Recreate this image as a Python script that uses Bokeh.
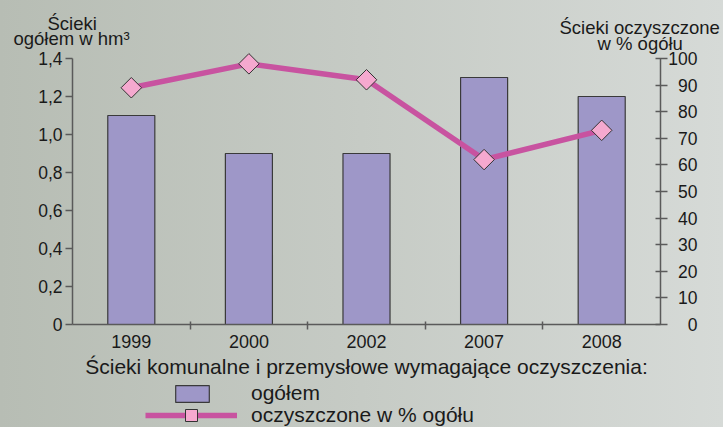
import numpy as np
from bokeh.plotting import figure
from bokeh.core.properties import value
from bokeh.models import (Range1d, FactorRange, LinearAxis, FixedTicker, CustomJSTickFormatter,
                          Label, Legend, LegendItem, ColumnDataSource)
from bokeh.embed import file_html
from bokeh.resources import INLINE

# ---- data ----
years = ["1999", "2000", "2002", "2007", "2008"]
total_hm3 = [1.1, 0.9, 0.9, 1.3, 1.2]
treated_pct = [89, 98, 92, 62, 73]
left_ticks = [0, 0.2, 0.4, 0.6, 0.8, 1.0, 1.2, 1.4]
right_ticks = [0, 10, 20, 30, 40, 50, 60, 70, 80, 90, 100]

title_left = ["Ścieki", "ogółem w hm³"]
title_right = ["Ścieki oczyszczone", "w % ogółu"]
legend_title = "Ścieki komunalne i przemysłowe wymagające oczyszczenia:"
legend_labels = ["ogółem", "oczyszczone w % ogółu"]

# ---- layout (pixels) ----
W, H = 723, 427
FRAME_L = 9                 # frame spans the canvas so outer texts are not clipped
X0, X1 = 72, 660            # plot area left / right
Y0, Y1 = 324, 58            # pixel rows of value 0 and of the top tick
FONT = "Liberation Sans"
AX = "#5a5a5a"
TXT = "#1a1a1a"

n = len(years)
cat_px = (X1 - X0) / n
pad = (X0 - FRAME_L) / cat_px
ymax = left_ticks[-1]
ppu = (Y0 - Y1) / ymax
pmax = right_ticks[-1]
ppp = (Y0 - Y1) / pmax

def xs(px):  # pixel column -> synthetic categorical coordinate
    return (px - X0) / cat_px

def ys(py):  # pixel row -> left-axis units
    return (Y0 - py) / ppu

src = ColumnDataSource(dict(year=years, total=total_hm3, pct=treated_pct))

p = figure(width=W, height=H,
           x_range=FactorRange(*years, range_padding=pad, range_padding_units="absolute"),
           y_range=Range1d(-(H - Y0) / ppu, ymax + Y1 / ppu),
           output_backend="svg", toolbar_location=None,
           x_axis_location=None, y_axis_location=None,
           min_border=0, min_border_left=FRAME_L, min_border_right=0,
           background_fill_alpha=0, border_fill_alpha=0, outline_line_color=None,
           styles={"background": "linear-gradient(90deg, #b7bdb4 0%, #c6cbc5 50%, #d6dad7 100%)"})
p.extra_y_ranges = {"pct": Range1d(-(H - Y0) / ppp, pmax + Y1 / ppp)}
for g in p.grid:
    g.visible = False

bars = p.vbar(x="year", top="total", width=0.4, source=src,
              fill_color="#9e97c8", line_color="#3a3a3a", line_width=1.2)
line_r = p.line(x="year", y="pct", source=src, y_range_name="pct",
                line_color="#c853a0", line_width=5.5)
pts = p.scatter(x="year", y="pct", source=src, y_range_name="pct", marker="square",
                angle=np.pi / 4, size=14.5, fill_color="#f5a9cf", line_color="#333333", line_width=1)

TICK_FS = "17.5px"
left = LinearAxis(ticker=FixedTicker(ticks=left_ticks), fixed_location=0, bounds=(0, ymax),
                  formatter=CustomJSTickFormatter(code="return tick == 0 ? '0' : tick.toFixed(1).replace('.', ',');"),
                  major_tick_in=0, major_tick_out=7, minor_tick_line_color=None,
                  axis_line_color=AX, axis_line_width=1.5, major_tick_line_color=AX, major_tick_line_width=1.5,
                  major_label_standoff=3, major_label_text_font=FONT, major_label_text_font_size=TICK_FS,
                  major_label_text_color=TXT)
p.add_layout(left, "left")

# right axis: rule and ticks; its labels are right-aligned like the original
right = LinearAxis(y_range_name="pct", ticker=FixedTicker(ticks=right_ticks), fixed_location=n,
                   bounds=(0, pmax), formatter=CustomJSTickFormatter(code="return '';"),
                   major_tick_in=5, major_tick_out=7, minor_tick_line_color=None,
                   axis_line_color=AX, axis_line_width=1.5, major_tick_line_color=AX, major_tick_line_width=1.5)
p.add_layout(right, "right")
rsrc = ColumnDataSource(dict(x=[xs(697)] * len(right_ticks), y=right_ticks,
                             t=[str(v) for v in right_ticks]))
p.text(x="x", y="y", text="t", source=rsrc, y_range_name="pct", text_align="right",
       text_baseline="middle", text_font=value(FONT), text_font_size=value(TICK_FS), text_color=TXT)

centers = [i + 0.5 for i in range(n)]
bounds = [i + 1.0 for i in range(n - 1)]
bottom = LinearAxis(ticker=FixedTicker(ticks=centers, minor_ticks=bounds), fixed_location=0,
                    bounds=(0, n),
                    formatter=CustomJSTickFormatter(args=dict(labels=years),
                                                    code="return labels[Math.round(tick - 0.5)];"),
                    major_tick_line_color=None, major_tick_in=0, major_tick_out=0,
                    minor_tick_in=3, minor_tick_out=5, minor_tick_line_color=AX, minor_tick_line_width=1.5,
                    axis_line_color=AX, axis_line_width=1.5,
                    major_label_standoff=5, major_label_text_font=FONT, major_label_text_font_size="18px",
                    major_label_text_color=TXT,
                    axis_label=legend_title, axis_label_text_font=FONT, axis_label_text_font_size="21px",
                    axis_label_text_font_style="normal", axis_label_text_color=TXT, axis_label_standoff=4)
p.add_layout(bottom, "below")

# titles above the two value axes (left edge, baseline)
TITLE_FS = "18.5px"
for txt, lx, base in [(title_left[0], 47, 23), (title_left[1], 13, 38),
                      (title_right[0], 559, 27), (title_right[1], 597, 43)]:
    p.add_layout(Label(x=xs(lx), y=ys(base), text=txt, text_align="left",
                       text_baseline="alphabetic", text_font=FONT, text_font_size=TITLE_FS,
                       text_color=TXT))

# legend entries below the legend title
leg_common = dict(padding=0, margin=0, spacing=0, border_line_color=None, background_fill_alpha=0,
                  label_text_font=FONT, label_text_font_size="21px", label_text_color=TXT)
leg1 = Legend(items=[LegendItem(label=legend_labels[0], renderers=[bars])],
              location=(171 - FRAME_L, H - 405), glyph_width=42, glyph_height=21, label_height=21,
              label_standoff=38, **leg_common)
leg2 = Legend(items=[LegendItem(label=legend_labels[1], renderers=[line_r, pts])],
              location=(145 - FRAME_L, H - 430), glyph_width=92, glyph_height=30, label_height=30,
              label_standoff=14, **leg_common)
p.add_layout(leg1, "center")
p.add_layout(leg2, "center")

open("out.html", "w").write(file_html(p, INLINE))
